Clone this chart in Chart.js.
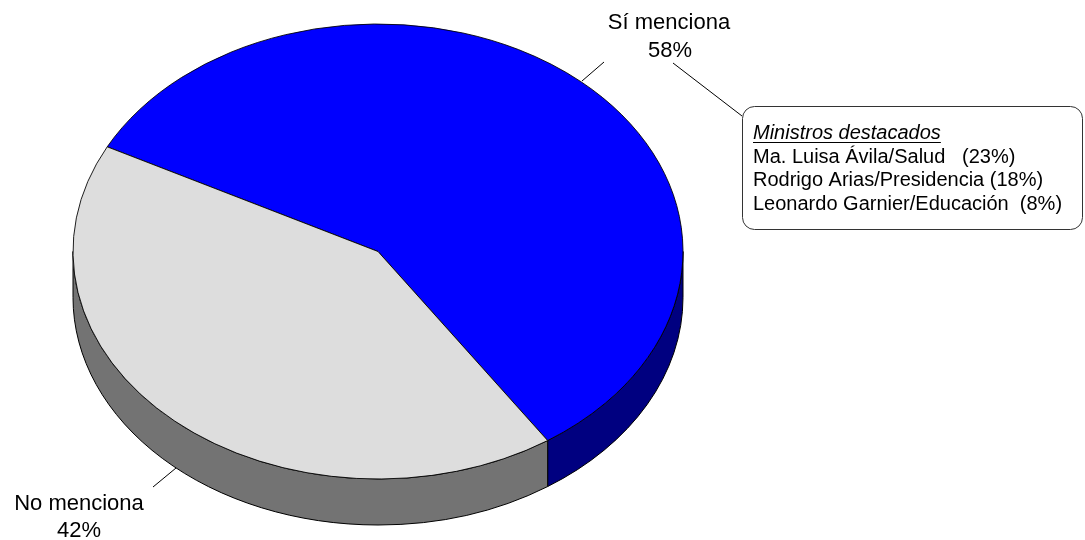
<!DOCTYPE html>
<html>
<head>
<meta charset="utf-8">
<script src="https://cdn.jsdelivr.net/npm/chart.js@4.4.0/dist/chart.umd.min.js"></script>
<style>
  html, body { margin: 0; padding: 0; background: #fff; }
  #wrap { width: 1085px; height: 540px; }
</style>
</head>
<body>
<div id="wrap"><canvas id="myChart" width="1085" height="540"></canvas></div>
<script>
const categories = ['Sí menciona', 'No menciona'];
const values = [58, 42];
const topColors = ['#0000FF', '#DDDDDD'];
const sideColors = ['#000080', '#737373'];

const ministersTitle = 'Ministros destacados';
const ministers = ['Ma. Luisa Ávila/Salud', 'Rodrigo Arias/Presidencia', 'Leonardo Garnier/Educación'];
const ministersPct = [23, 18, 8];
const ministersGap = ['   ', ' ', '  '];

const depth = 46;
const squash = 227.5 / 305;
const FONT = '"Liberation Sans", Arial, sans-serif';

// tilt the pie and paint the visible side wall under it
const pie3d = {
    id: 'pie3d',
    beforeDatasetsDraw(chart) {
        const ctx = chart.ctx;
        const arcs = chart.getDatasetMeta(0).data;
        const cx = arcs[0].x, cy = arcs[0].y, r = arcs[0].outerRadius;
        const ry = r * squash;

        ctx.save();
        arcs.forEach((arc, i) => {
            for (let k = -1; k <= 2; k++) {
                const lo = Math.max(arc.startAngle, 2 * Math.PI * k);
                const hi = Math.min(arc.endAngle, 2 * Math.PI * k + Math.PI);
                if (hi <= lo) continue;
                ctx.beginPath();
                ctx.ellipse(cx, cy, r, ry, 0, lo, hi);
                ctx.ellipse(cx, cy + depth, r, ry, 0, hi, lo, true);
                ctx.closePath();
                ctx.fillStyle = sideColors[i];
                ctx.fill();
                ctx.strokeStyle = '#000';
                ctx.lineWidth = 1;
                ctx.stroke();
            }
        });
        ctx.restore();

        ctx.save();
        ctx.translate(cx, cy);
        ctx.scale(1, squash);
        ctx.translate(-cx, -cy);
    },
    afterDatasetsDraw(chart) {
        chart.ctx.restore();
    }
};

const labels = {
    id: 'labels',
    afterDraw(chart) {
        const ctx = chart.ctx;
        ctx.save();

        // leader lines
        ctx.strokeStyle = '#000';
        ctx.lineWidth = 1;
        ctx.beginPath();
        ctx.moveTo(582, 81); ctx.lineTo(604, 62);
        ctx.moveTo(673, 63); ctx.lineTo(742, 116);
        ctx.moveTo(153, 487); ctx.lineTo(176, 468);
        ctx.stroke();

        ctx.fillStyle = '#000';
        ctx.font = '22px ' + FONT;
        ctx.textAlign = 'center';
        ctx.fillText(categories[0], 669, 29);
        ctx.fillText(values[0] + '%', 670, 57);
        ctx.fillText(categories[1], 79, 510);
        ctx.fillText(values[1] + '%', 79, 537);

        // ministers box
        ctx.strokeStyle = '#333';
        ctx.beginPath();
        ctx.roundRect(742.5, 106.5, 340, 123, 12);
        ctx.fillStyle = '#fff';
        ctx.fill();
        ctx.stroke();

        ctx.fillStyle = '#000';
        ctx.textAlign = 'left';
        ctx.font = 'italic 20px ' + FONT;
        ctx.fillText(ministersTitle, 753, 139);
        const w = ctx.measureText(ministersTitle).width;
        ctx.beginPath();
        ctx.moveTo(753, 142.5); ctx.lineTo(753 + w, 142.5);
        ctx.strokeStyle = '#000';
        ctx.stroke();

        ctx.font = '20px ' + FONT;
        ministers.forEach((m, i) => {
            ctx.fillText(m + ministersGap[i] + '(' + ministersPct[i] + '%)', 753, 162.5 + i * 23.5);
        });
        ctx.restore();
    }
};

const ctx = document.getElementById('myChart').getContext('2d');
const myChart = new Chart(ctx, {
    type: 'pie',
    data: {
        labels: categories,
        datasets: [{
            data: values,
            backgroundColor: topColors,
            borderColor: '#000',
            borderWidth: 1,
            radius: 305,
            clip: false
        }]
    },
    options: {
        responsive: false,
        animation: false,
        events: [],
        rotation: -62.6,
        layout: { padding: { left: 0, right: 329, top: 0, bottom: 37 } },
        plugins: {
            legend: { display: false },
            tooltip: { enabled: false }
        }
    },
    plugins: [pie3d, labels]
});
</script>
</body>
</html>
